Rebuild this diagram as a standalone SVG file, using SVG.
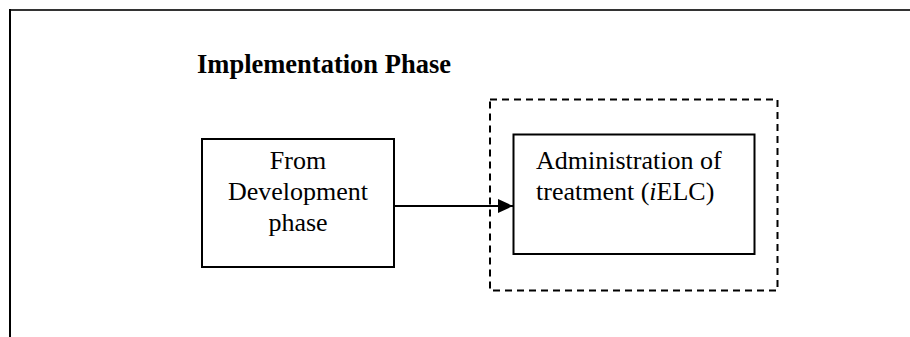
<svg xmlns="http://www.w3.org/2000/svg" width="910" height="337" viewBox="0 0 910 337">
  <style>
    .box { fill: #fff; stroke: #000; stroke-width: 2; }
    .dash { fill: none; stroke: #000; stroke-width: 2; stroke-dasharray: 7 5; }
    .txt { font-family: "Liberation Serif", "Times New Roman", serif; font-size: 26px; fill: #000; }
    .title { font-family: "Liberation Serif", "Times New Roman", serif; font-size: 26.5px; font-weight: bold; fill: #000; }
    .edge { stroke: #000; stroke-width: 2; fill: none; }
  </style>
  <defs>
    <marker id="arrow" markerUnits="userSpaceOnUse" markerWidth="16" markerHeight="14" refX="15" refY="7" orient="auto">
      <path d="M0,0 L15,7 L0,14 Z" fill="#000"/>
    </marker>
  </defs>

  <!-- page frame -->
  <g id="frame">
    <line x1="9" y1="10" x2="910" y2="10" stroke="#333" stroke-width="2"/>
    <line x1="10" y1="9" x2="10" y2="337" stroke="#000" stroke-width="2"/>
  </g>

  <g id="title">
    <text class="title" x="197" y="73">Implementation Phase</text>
  </g>

  <g id="implementation-group">
    <rect class="dash" x="490" y="99.5" width="287.5" height="191"/>
  </g>

  <g id="from-development">
    <rect class="box" x="202" y="139" width="192" height="128"/>
    <text class="txt" text-anchor="middle" x="298" y="168.5">From</text>
    <text class="txt" text-anchor="middle" x="298" y="199.5">Development</text>
    <text class="txt" text-anchor="middle" x="298" y="230.5">phase</text>
  </g>

  <g id="administration">
    <rect class="box" x="513.5" y="134.5" width="241" height="119.5"/>
    <text class="txt" x="536" y="169">Administration of</text>
    <text class="txt" x="536" y="199.5">treatment (<tspan font-style="italic">i</tspan>ELC)</text>
  </g>

  <g id="connectors">
    <line class="edge" x1="394" y1="206" x2="513" y2="206" marker-end="url(#arrow)"/>
  </g>
</svg>
